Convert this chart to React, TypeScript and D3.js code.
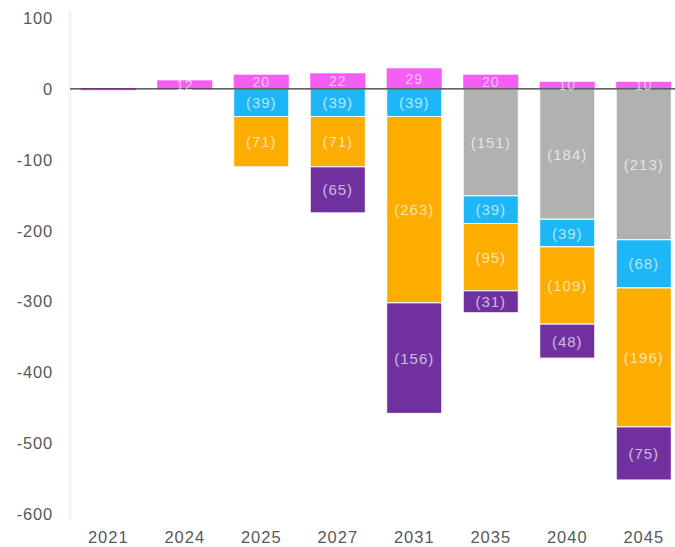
import React from "react";
import * as d3 from "d3";

const categories = ["2021", "2024", "2025", "2027", "2031", "2035", "2040", "2045"];
const pinkValues = [1, 12, 20, 22, 29, 20, 10, 10];
const greyValues = [0, 0, 0, 0, 0, -151, -184, -213];
const blueValues = [0, 0, -39, -39, -39, -39, -39, -68];
const orangeValues = [0, 0, -71, -71, -263, -95, -109, -196];
const purpleValues = [0, 0, 0, -65, -156, -31, -48, -75];
const yTicks = [100, 0, -100, -200, -300, -400, -500, -600];

const W = 675;
const H = 547;

const negSeries = [
  { key: "grey", values: greyValues, color: "#b1b1b1" },
  { key: "blue", values: blueValues, color: "#1db6f6" },
  { key: "orange", values: orangeValues, color: "#fdad00" },
  { key: "purple", values: purpleValues, color: "#7030a0" },
];
const pinkColor = "#f55ef5";

export default function App() {
  const x = d3.scaleBand<string>().domain(categories).range([70, 682]).paddingInner(0.28).paddingOuter(0.14);
  const y = d3.scaleLinear().domain([-600, 100]).range([514, 18]);
  const bw = x.bandwidth();
  const font = "'Liberation Sans', Arial, sans-serif";

  const rects: React.ReactNode[] = [];
  const labels: React.ReactNode[] = [];

  categories.forEach((c, i) => {
    const x0 = x(c)!;
    const pv = pinkValues[i];
    if (pv > 0) {
      rects.push(
        <rect key={"p" + c} x={x0} y={y(pv)} width={bw} height={Math.max(y(0) - y(pv), 2)} fill={pinkColor} />
      );
      if (pv >= 5) {
        labels.push(
          <text key={"pl" + c} x={x0 + bw / 2} y={(y(pv) + y(0)) / 2 + 5} textAnchor="middle"
            fontSize={14} letterSpacing={1} fill="#ffffff" fillOpacity={0.65} fontFamily={font}>{pv}</text>
        );
      }
    }
    let acc = 0;
    negSeries.forEach((s) => {
      const v = s.values[i];
      if (v < 0) {
        const top = y(acc);
        const bot = y(acc + v);
        rects.push(
          <rect key={s.key + c} x={x0} y={top} width={bw} height={bot - top} fill={s.color}
            stroke="#ffffff" strokeWidth={1} />
        );
        labels.push(
          <text key={s.key + "l" + c} x={x0 + bw / 2} y={(top + bot) / 2 + 5.5} textAnchor="middle"
            fontSize={15} letterSpacing={1} fill="#ffffff" fillOpacity={0.68} fontFamily={font}>{`(${-v})`}</text>
        );
        acc += v;
      }
    });
  });

  return (
    <svg width={W} height={H} style={{ position: "absolute", left: 0, top: 0, background: "#fff" }}>
      <line x1={70} x2={70} y1={10} y2={520} stroke="#f3f3f3" strokeWidth={3} />
      {yTicks.map((t) => (
        <text key={t} x={53} y={y(t) + 6} textAnchor="end" fontSize={16.5} letterSpacing={0.8} fill="#595959" fontFamily={font}>
          {t}
        </text>
      ))}
      {rects}
      <line x1={70} x2={675} y1={y(0)} y2={y(0)} stroke="#333333" strokeWidth={1.3} />
      {labels}
      {categories.map((c) => (
        <text key={c} x={x(c)! + bw / 2} y={543} textAnchor="middle" fontSize={16.5} letterSpacing={1} fill="#595959" fontFamily={font}>
          {c}
        </text>
      ))}
    </svg>
  );
}
